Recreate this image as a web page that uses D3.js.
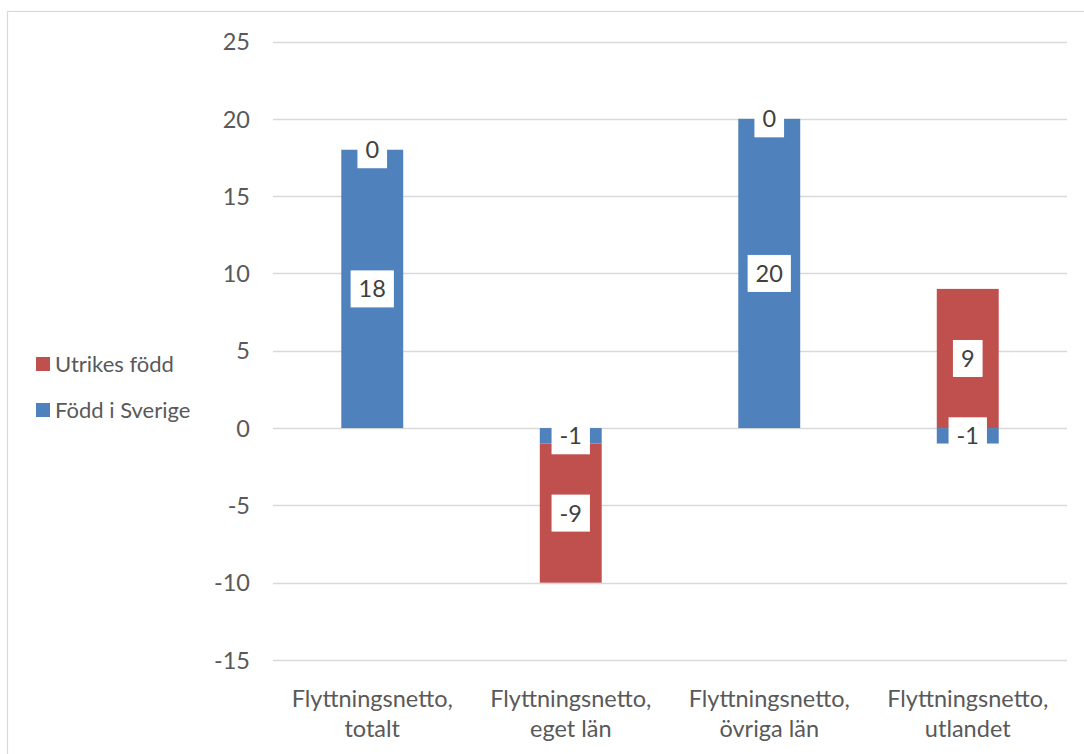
<!DOCTYPE html>
<html><head><meta charset="utf-8">
<script src="https://cdn.jsdelivr.net/npm/d3@7"></script>
<style>body{margin:0;background:#fff}svg{display:block}text{font-family:Lato,"Open Sans",sans-serif}</style>
</head><body><svg id="c" width="1084" height="754"></svg>
<script>
const categories = [["Flyttningsnetto,","totalt"],["Flyttningsnetto,","eget län"],["Flyttningsnetto,","övriga län"],["Flyttningsnetto,","utlandet"]];
const seriesNames = ["Född i Sverige","Utrikes född"];
const foddISverige = [18, -1, 20, -1];
const utrikesFodd = [0, -9, 0, 9];
const yTicks = [25, 20, 15, 10, 5, 0, -5, -10, -15];
const colors = ["#4F81BD", "#C0504D"];
const legendOrder = [1, 0];

const values = [foddISverige, utrikesFodd];
const svg = d3.select("#c");
const fs = 23.5, textCol = "#595959";

svg.append("rect").attr("x",7.5).attr("y",11.5).attr("width",1090).attr("height",760)
  .attr("fill","#fff").attr("stroke","#d9d9d9").attr("stroke-width",1.2);

const x = d3.scaleBand().domain(d3.range(categories.length)).range([273,1067]).paddingInner(0.688).paddingOuter(0.344);
const y = d3.scaleLinear().domain([-15,25]).range([660,41.5]);

// gridlines
svg.append("g").selectAll("line").data(yTicks).join("line")
  .attr("x1",273).attr("x2",1067).attr("y1",d=>Math.round(y(d))+0.5).attr("y2",d=>Math.round(y(d))+0.5)
  .attr("stroke","#d9d9d9").attr("stroke-width",1.5);

// y tick labels via axis
const ya = svg.append("g").attr("transform","translate(262,0)")
  .call(d3.axisLeft(y).tickValues(yTicks).tickSize(0).tickPadding(12).tickFormat(d=>String(d)));
ya.select(".domain").remove();
ya.selectAll("text").attr("font-size",fs).attr("fill",textCol).attr("font-family","Lato,sans-serif").attr("dy","0.35em");

// stacking (Excel-like: zero placed on positive stack)
const segs = [];
categories.forEach((c,i)=>{
  let pos=0, neg=0;
  values.forEach((arr,s)=>{
    const v=arr[i]; let y0,y1;
    if (v>=0){ y0=pos; y1=pos+v; pos=y1; } else { y1=neg; y0=neg+v; neg=y0; }
    segs.push({i,s,v,y0,y1});
  });
});

svg.append("g").selectAll("rect").data(segs).join("rect")
  .attr("x",d=>x(d.i)).attr("width",x.bandwidth())
  .attr("y",d=>y(d.y1)).attr("height",d=>y(d.y0)-y(d.y1))
  .attr("fill",d=>colors[d.s]);

// data labels
const lg = svg.append("g");
segs.forEach(d=>{
  const cx = x(d.i)+x.bandwidth()/2, cy = y((d.y0+d.y1)/2);
  const g = lg.append("g");
  const t = g.append("text").attr("x",cx).attr("y",cy).attr("dy","0.36em").attr("text-anchor","middle")
    .attr("font-size",fs).attr("fill","#404040").text(d.v);
  const w = t.node().getComputedTextLength();
  g.insert("rect","text").attr("x",cx-w/2-8).attr("y",cy-18.5).attr("width",w+16).attr("height",37).attr("fill","#fff");
});

// x labels
const xg = svg.append("g");
categories.forEach((c,i)=>{
  const t = xg.append("text").attr("x",x(i)+x.bandwidth()/2).attr("y",707).attr("text-anchor","middle")
    .attr("font-size",fs).attr("fill",textCol);
  c.forEach((line,k)=>t.append("tspan").attr("x",x(i)+x.bandwidth()/2).attr("dy",k?30:0).text(line));
});

// legend
const leg = svg.append("g");
legendOrder.forEach((s,k)=>{
  const cy = 364 + k*46;
  leg.append("rect").attr("x",36).attr("y",cy-7).attr("width",14).attr("height",14).attr("fill",colors[s]);
  leg.append("text").attr("x",55).attr("y",cy).attr("dy","0.36em").attr("font-size",22).attr("fill",textCol).text(seriesNames[s]);
});
</script></body></html>
